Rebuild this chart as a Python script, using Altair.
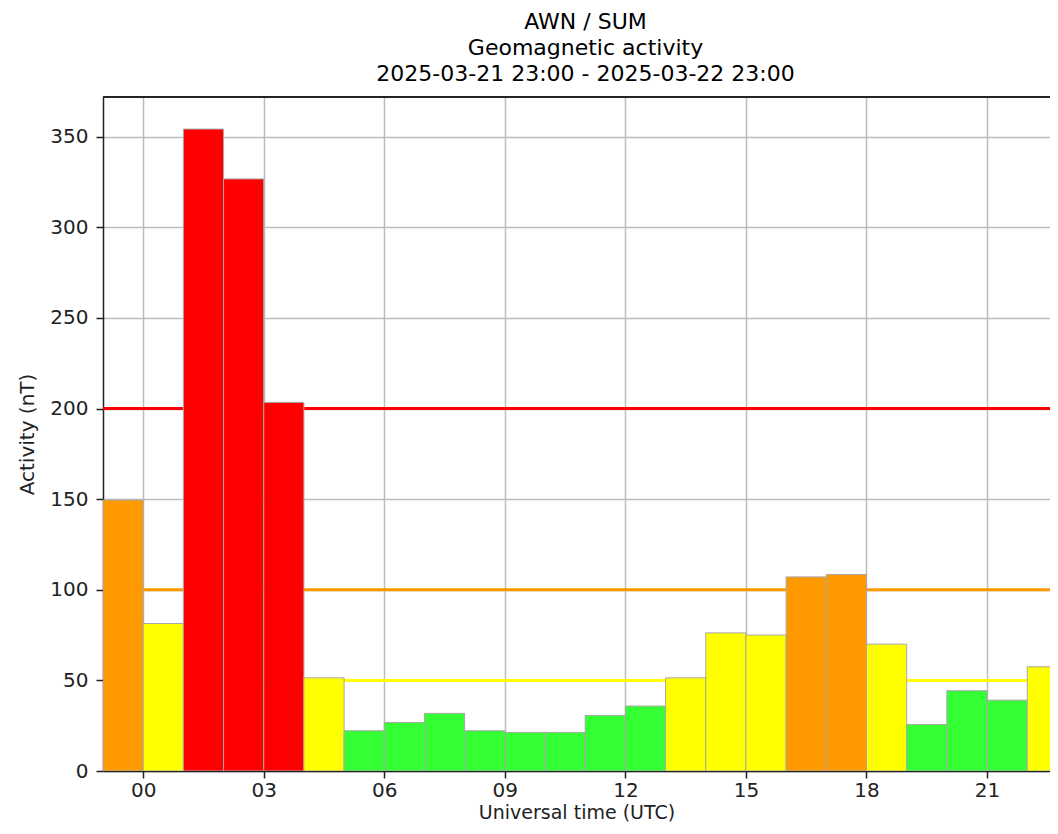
import altair as alt
import pandas as pd

# ---- data ----
hour_starts = list(range(24))  # hours after 2025-03-21 23:00 UTC
values = [149.5, 81.4, 354.2, 326.7, 203.4, 51.4, 22.2, 26.8, 31.8, 22.2,
          21.3, 21.3, 30.7, 35.8, 51.4, 76.2, 75.0, 107.1, 108.4, 70.0,
          25.7, 44.3, 39.1, 57.5]
threshold_values = [50, 100, 200]
threshold_colors = ["#ffff00", "#ff9900", "#ff0000"]
level_names = ["quiet", "active", "storm", "severe"]
level_colors = ["#33ff33", "#ffff00", "#ff9900", "#ff0000"]
tick_hours = [0, 3, 6, 9, 12, 15, 18, 21]
title_lines = ["AWN / SUM", "Geomagnetic activity",
               "2025-03-21 23:00 - 2025-03-22 23:00"]

start = pd.Timestamp("2025-03-21 23:00", tz="UTC")


def level(v):
    if v >= threshold_values[2]:
        return level_names[3]
    if v >= threshold_values[1]:
        return level_names[2]
    if v >= threshold_values[0]:
        return level_names[1]
    return level_names[0]


df = pd.DataFrame({
    "start": [(start + pd.Timedelta(hours=h)).strftime("%Y-%m-%dT%H:%M:%SZ") for h in hour_starts],
    "end": [(start + pd.Timedelta(hours=h + 1)).strftime("%Y-%m-%dT%H:%M:%SZ") for h in hour_starts],
    "value": values,
    "level": [level(v) for v in values],
})
thr = pd.DataFrame({"value": threshold_values, "color": threshold_colors})

# the reference figure is cut at the right edge of the window, a little before 23:00
x_domain = [alt.DateTime(year=2025, month=3, date=21, hours=23, utc=True),
            alt.DateTime(year=2025, month=3, date=22, hours=22, minutes=34, utc=True)]
tick_vals = [alt.DateTime(year=2025, month=3, date=22, hours=h, utc=True) for h in tick_hours]

x_enc = alt.X("start:T",
              scale=alt.Scale(type="utc", domain=x_domain, nice=False),
              axis=alt.Axis(values=tick_vals, format="%H", title="Universal time (UTC)",
                            grid=True, labelPadding=2, titlePadding=3.6,
                            titleFontSize=19))
y_enc = alt.Y("value:Q",
              scale=alt.Scale(domain=[0, 371.9], nice=False, zero=True),
              axis=alt.Axis(values=[0, 50, 100, 150, 200, 250, 300, 350],
                            title="Activity (nT)", grid=True,
                            labelPadding=8, titlePadding=12))

rules = alt.Chart(thr).mark_rule(strokeWidth=3).encode(
    y=alt.Y("value:Q"),
    color=alt.Color("color:N", scale=None),
)

bars = alt.Chart(df).mark_bar(stroke="#a8a8a8", strokeWidth=1, opacity=1, clip=True).encode(
    x=x_enc,
    x2="end:T",
    y=y_enc,
    y2=alt.datum(0),
    color=alt.Color("level:N", scale=alt.Scale(domain=level_names, range=level_colors),
                    legend=None),
)

top_spine = alt.Chart(thr).mark_rule(color="#222222", strokeWidth=1.5).encode(
    y=alt.datum(371.9),
)

chart = alt.layer(rules, bars, top_spine).properties(
    width=947,
    height=674,
    padding={"left": 95, "top": 89, "right": 0, "bottom": 55},
    autosize=alt.AutoSizeParams(type="none"),
    title=alt.TitleParams(text=title_lines, fontSize=22, fontWeight="normal",
                          color="#000000", lineHeight=26, anchor="middle", offset=10,
                          dx=9, font="DejaVu Sans"),
).configure(
    font="DejaVu Sans",
).configure_view(
    stroke=None,
).configure_axis(
    labelFont="DejaVu Sans", titleFont="DejaVu Sans",
    labelFontSize=20, titleFontSize=20,
    labelColor="#222222", titleColor="#222222",
    titleFontWeight="normal",
    domainColor="#222222", domainWidth=1.5,
    tickColor="#222222", tickWidth=1.5, tickSize=7,
    gridColor="#bdbdbd", gridWidth=1.5,
)

chart.save("out.html", embed_options={"renderer": "svg", "actions": False})
